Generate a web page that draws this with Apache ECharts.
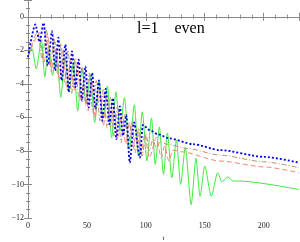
<!DOCTYPE html>
<html><head><meta charset="utf-8">
<script src="https://cdn.jsdelivr.net/npm/echarts@6/dist/echarts.min.js"></script>
<style>html,body{margin:0;padding:0;background:#fff}#c{width:300px;height:242px}</style>
</head><body><div id="c"></div>
<script>
var xTicks = [0, 50, 100, 150, 200];
var yTicks = [0, -2, -4, -6, -8, -10, -12];

var blueT = [0, 6.2, 9.8, 13.3, 16.8, 20.4, 23, 25.8, 28.5, 31.7, 34.5, 37.4, 40.2, 43, 45.8, 48.7, 51.5, 54.4, 57.3, 60.2, 63, 66, 69, 72, 75, 78, 80.5, 83.5, 86.3, 90, 95, 97.5, 103, 110, 120, 140, 163, 200, 230];
var blueV = [-2.4, -0.46, -1.5, -0.36, -2.9, -0.86, -3.2, -1.25, -3.8, -1.66, -4.5, -2.06, -4.2, -2.56, -5.0, -2.96, -5.4, -3.35, -5.5, -3.8, -6.2, -4.3, -6.4, -4.85, -7.3, -5.35, -7.1, -5.85, -8.7, -6.3, -8.4, -6.45, -6.75, -7.0, -7.25, -7.6, -7.95, -8.35, -8.7];

var brownT = [0, 8.5, 12, 15.5, 19, 22, 25, 28, 31, 34, 37, 40, 43, 46, 49, 52, 55, 58, 61, 64, 67, 70, 73, 76, 79, 82, 85, 88, 91, 94, 97, 100, 103, 106, 109, 112, 118, 135, 163, 200, 230];
var brownV = [-2.4, -0.85, -2.6, -0.75, -3.0, -1.2, -3.4, -1.6, -3.9, -2.0, -4.6, -2.45, -4.8, -2.9, -5.3, -3.35, -5.7, -3.8, -6.2, -4.3, -6.6, -4.8, -7.1, -5.3, -7.5, -5.8, -7.8, -6.25, -8.1, -6.65, -8.3, -6.95, -8.0, -7.3, -7.9, -7.45, -7.6, -7.85, -8.25, -8.65, -9.0];

var salmonT = [0, 10, 13.5, 16.5, 20, 23, 26.5, 29.5, 33, 36, 39, 42, 45, 48, 51, 54, 57, 60.5, 64, 67, 70, 73, 76, 79.5, 83, 86, 89, 92.5, 96, 99, 103, 109, 113, 116, 119.5, 123, 130, 163, 200, 230];
var salmonV = [-2.4, -0.95, -2.9, -1.0, -3.3, -1.5, -3.8, -1.95, -4.3, -2.45, -4.4, -2.85, -5.0, -3.3, -5.6, -3.8, -6.0, -4.3, -6.5, -4.8, -6.6, -5.3, -7.2, -5.8, -7.6, -6.3, -7.9, -6.7, -8.3, -7.0, -8.4, -7.2, -8.4, -7.7, -8.6, -7.95, -8.05, -8.6, -8.95, -9.3];

var greenT = [0, 3.5, 7, 11.5, 14.2, 17.5, 20.8, 24.2, 27.8, 31.4, 35, 38.6, 42.2, 45.8, 49.4, 53, 56.6, 60.2, 63.8, 67.4, 71, 74.6, 78.2, 81.8, 86, 90.3, 93.6, 97, 101, 104.8, 108, 111.5, 115, 118.3, 122, 126, 129.5, 133.5, 138.5, 142.5, 146, 150, 155.5, 161, 164.5, 169.5, 174, 180, 230];
var greenV = [-2.4, -1.9, -3.1, -1.4, -3.6, -1.73, -3.5, -2.08, -4.8, -2.42, -4.4, -2.76, -5.6, -3.1, -5.2, -3.45, -6.3, -3.79, -6.0, -4.13, -7.2, -4.48, -6.8, -4.83, -7.9, -5.25, -8.3, -5.67, -8.6, -6.03, -8.8, -6.57, -9.4, -6.93, -9.6, -7.35, -10.0, -7.8, -11.2, -8.45, -10.7, -8.9, -10.7, -9.3, -9.85, -9.55, -9.8, -9.8, -10.3];

var title = 'l=1    even';

function pairs(t, v) { return t.map(function (x, i) { return [x, v[i]]; }); }
function fmtX(v) { return xTicks.indexOf(v) >= 0 ? String(v) : ''; }
function fmtY(v) { return yTicks.indexOf(v) >= 0 ? String(v).replace('-', '\u2212') : ''; }

var frame = '#888';
var font = '"Liberation Serif", "DejaVu Serif", serif';
function axisBase(pos, showLabel, f) {
  return {
    type: 'value', position: pos,
    axisLine: { show: true, lineStyle: { color: frame, width: 1 } },
    axisTick: { show: true, inside: true, length: 4, lineStyle: { color: frame } },
    minorTick: { show: true, splitNumber: 5, length: 2, lineStyle: { color: frame } },
    splitLine: { show: false },
    axisLabel: { show: showLabel, color: '#222', fontFamily: font, fontSize: 8, margin: 4, formatter: f,
      showMaxLabel: false, showMinLabel: true }
  };
}
var xb = axisBase('bottom', true, fmtX); xb.min = 0; xb.max = 230; xb.interval = 50;
xb.name = 't'; xb.nameLocation = 'middle'; xb.nameGap = 17; xb.nameTextStyle = { fontFamily: font, fontSize: 7, color: '#222' };
var xt = axisBase('top', false, fmtX); xt.min = 0; xt.max = 230; xt.interval = 50;
var yl = axisBase('left', true, fmtY); yl.min = -12; yl.max = 1; yl.interval = 2;
yl.minorTick.splitNumber = 4;
yl.name = 'ln|\u03c1|'; yl.nameLocation = 'middle'; yl.nameGap = 19; yl.nameTextStyle = { fontFamily: font, fontSize: 6, color: '#222' };
var yr = axisBase('right', false, fmtY); yr.min = -12; yr.max = 1; yr.interval = 2;
yr.minorTick.splitNumber = 4;

function ser(t, v, color, type, width, z) {
  return { type: 'line', data: pairs(t, v), showSymbol: false, symbol: 'none', z: z,
    smooth: 0.25, smoothMonotone: 'x',
    lineStyle: { color: color, type: type, width: width }, xAxisIndex: 0, yAxisIndex: 0, animation: false, clip: true };
}

var chart = echarts.init(document.getElementById('c'), null, { renderer: 'canvas' });
chart.setOption({
  animation: false,
  grid: { left: 28, right: 1, top: 0, bottom: 24, containLabel: false, outerBoundsMode: 'none' },
  xAxis: [xb, xt],
  yAxis: [yl, yr],
  graphic: [{ type: 'text', left: 137, top: 21, style: { text: title, font: '16px "Liberation Serif", serif', fill: '#000' } }],
  series: [
    ser(greenT, greenV, '#3dea3d', 'solid', 1, 2),
    ser(salmonT, salmonV, '#f48670', [5, 3], 1, 3),
    ser(brownT, brownV, '#b8916f', [5, 2, 1, 2], 1, 4),
    ser(blueT, blueV, '#0000ee', [2, 2], 1.8, 5)
  ]
});
</script></body></html>
